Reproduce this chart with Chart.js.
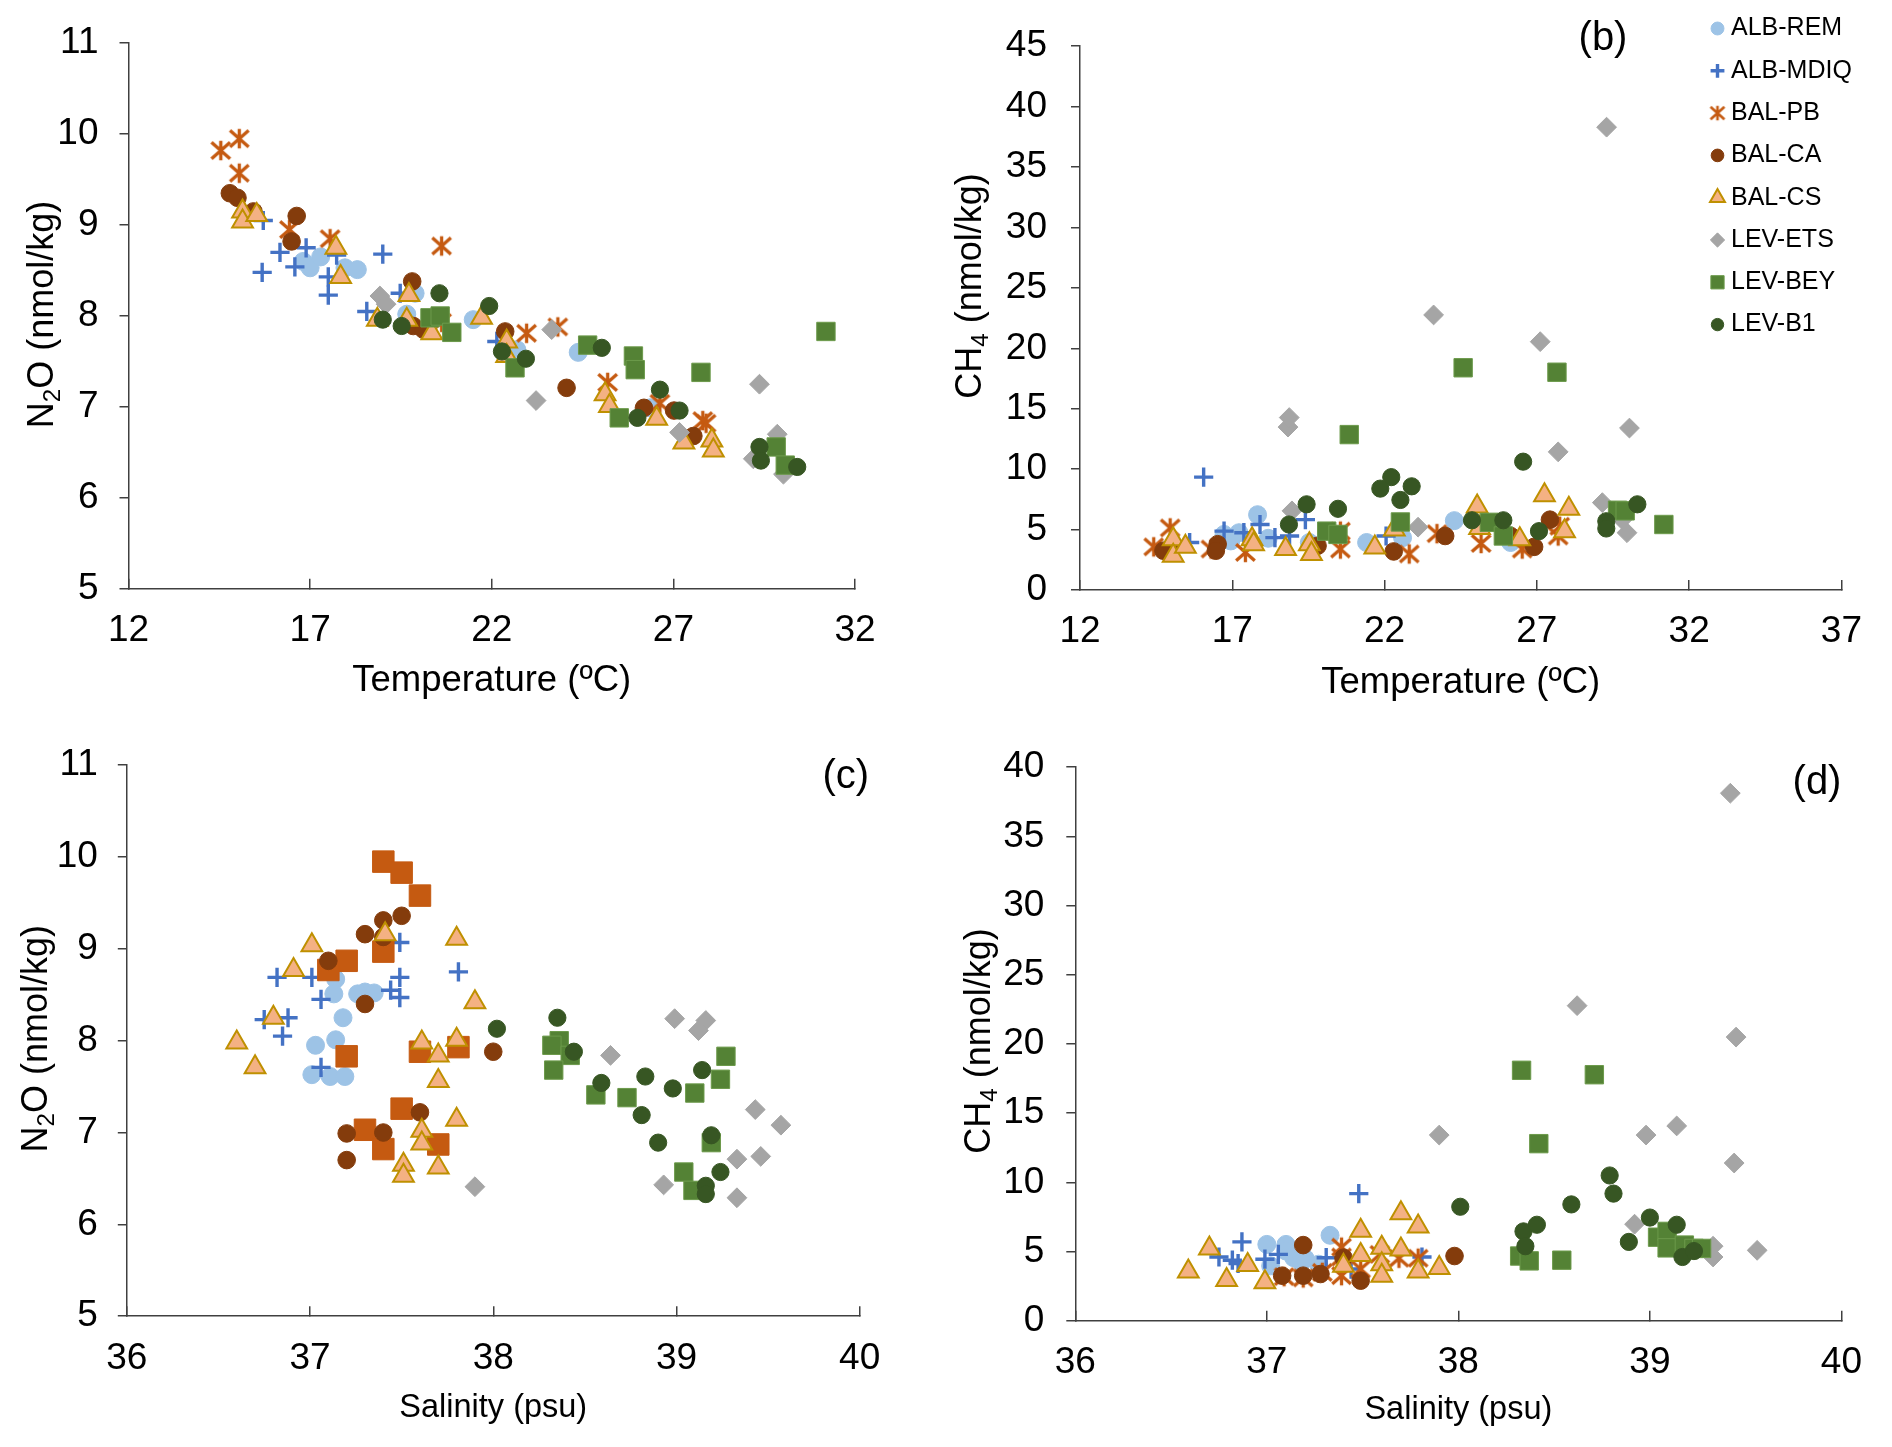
<!DOCTYPE html>
<html><head><meta charset="utf-8">
<script src="https://cdn.jsdelivr.net/npm/chart.js@4.4.1/dist/chart.umd.min.js"></script>
<style>
html,body{margin:0;padding:0;background:#fff;}
body{width:1892px;height:1447px;position:relative;overflow:hidden;}
.panel{position:absolute;}
canvas{display:block;}
</style></head><body>
<div class="panel" style="left:0;top:0;"><canvas id="ca" width="946" height="723" style="width:946px;height:723px"></canvas></div>
<div class="panel" style="left:946px;top:0;"><canvas id="cb" width="946" height="723" style="width:946px;height:723px"></canvas></div>
<div class="panel" style="left:0;top:723px;"><canvas id="cc" width="946" height="724" style="width:946px;height:724px"></canvas></div>
<div class="panel" style="left:946px;top:723px;"><canvas id="cd" width="946" height="724" style="width:946px;height:724px"></canvas></div>
<script>
// ---------------- DATA ----------------
const SERIES = ['ALB-REM','ALB-MDIQ','BAL-PB','BAL-CA','BAL-CS','LEV-ETS','LEV-BEY','LEV-B1'];

// Panel (a): temperature (ºC) vs N2O (nmol/kg)
const A_ALB_REM  = [[16.81,8.60],[17.0,8.53],[17.29,8.65],[17.96,8.53],[18.3,8.51],[19.89,8.25],[19.66,8.02],[21.49,7.96],[22.69,7.63],[24.38,7.60],[26.36,6.99]];
const A_ALB_MDIQ = [[15.71,9.05],[16.17,8.70],[15.68,8.48],[16.89,8.75],[16.58,8.54],[17.73,8.67],[17.5,8.43],[17.5,8.23],[19.0,8.68],[18.56,8.05],[19.48,8.25],[22.14,7.72]];
const A_BAL_PB   = [[14.54,9.82],[15.05,9.95],[15.05,9.57],[16.43,8.95],[17.55,8.85],[20.62,8.77],[20.62,7.93],[22.96,7.81],[23.82,7.88],[25.19,7.27],[26.63,7.04],[27.81,6.85],[27.9,6.82]];
const A_BAL_CA   = [[14.79,9.35],[15.0,9.30],[15.44,9.15],[16.63,9.10],[16.49,8.82],[19.81,8.38],[19.84,7.89],[20.12,7.85],[22.37,7.83],[24.06,7.21],[26.19,6.99],[27.02,6.96],[27.55,6.68]];
const A_BAL_CS   = [[15.14,9.15],[15.14,9.04],[15.53,9.11],[17.71,8.75],[17.84,8.43],[19.72,8.23],[18.85,7.96],[19.66,7.96],[20.35,7.81],[21.72,7.98],[22.41,7.72],[22.41,7.56],[25.12,7.14],[25.24,7.01],[26.54,6.87],[27.29,6.61],[28.06,6.63],[28.1,6.52]];
const A_LEV_ETS  = [[18.92,8.22],[19.09,8.13],[23.22,7.07],[23.65,7.85],[29.37,7.25],[27.17,6.72],[29.86,6.70],[29.2,6.43],[30.03,6.26]];
const A_LEV_BEY  = [[20.3,7.98],[20.58,8.0],[20.9,7.82],[22.64,7.43],[24.64,7.68],[25.9,7.56],[25.95,7.41],[27.76,7.38],[25.51,6.88],[31.2,7.83],[29.83,6.56],[30.08,6.36]];
const A_LEV_B1   = [[19.0,7.96],[19.52,7.89],[20.56,8.25],[21.93,8.11],[22.28,7.61],[22.94,7.53],[25.03,7.65],[26.63,7.19],[26.01,6.88],[27.17,6.96],[29.37,6.56],[29.41,6.41],[30.41,6.34]];

// Panel (b): temperature (ºC) vs CH4 (nmol/kg)
const B_ALB_REM  = [[17.83,6.23],[16.73,4.6],[17.22,4.74],[16.95,4.06],[18.18,4.28],[19.53,3.93],[21.41,3.93],[22.59,4.33],[24.29,5.74],[26.14,3.93]];
const B_ALB_MDIQ = [[16.06,9.34],[15.6,3.93],[16.73,4.87],[17.38,4.74],[17.91,5.42],[18.4,4.33],[18.88,4.47],[19.4,5.82],[22.05,4.47]];
const B_BAL_PB   = [[14.42,3.57],[14.96,5.14],[16.3,3.39],[17.43,3.11],[20.55,3.39],[20.55,4.87],[22.81,2.98],[23.72,4.66],[25.17,3.85],[26.52,3.39],[27.75,5.28],[27.7,4.47]];
const B_BAL_CA   = [[14.74,3.25],[15.01,3.52],[16.52,3.79],[16.46,3.25],[19.8,3.66],[22.3,3.19],[23.99,4.47],[26.14,4.47],[26.91,3.57],[27.43,5.82]];
const B_BAL_CS   = [[15.06,4.2],[15.06,2.84],[15.46,3.57],[17.65,4.2],[17.7,3.79],[18.75,3.39],[19.53,3.79],[19.6,2.98],[21.68,3.52],[22.32,5.01],[25.04,6.9],[25.12,5.14],[26.44,4.2],[27.25,7.85],[28.05,6.72],[27.91,4.87]];
const B_LEV_ETS  = [[18.83,13.48],[18.87,14.27],[18.96,6.55],[23.1,5.2],[23.61,22.76],[27.11,20.55],[27.7,11.43],[29.29,38.3],[30.04,13.4],[29.15,7.23],[29.96,4.74],[29.8,5.82]];
const B_LEV_BEY  = [[20.84,12.86],[20.1,4.87],[20.47,4.6],[22.52,5.63],[24.58,18.39],[27.66,18.02],[25.44,5.6],[25.9,4.47],[29.65,6.6],[29.9,6.55],[31.17,5.42]];
const B_LEV_B1   = [[22.22,9.34],[21.86,8.39],[22.89,8.58],[22.52,7.45],[19.44,7.09],[20.47,6.72],[18.86,5.42],[26.55,10.62],[24.87,5.77],[25.9,5.77],[27.07,4.87],[29.28,5.69],[29.28,5.09],[30.3,7.09]];

// Panel (c): salinity (psu) vs N2O (nmol/kg)
const C_ALB_REM  = [[37.14,8.67],[37.13,8.51],[37.3,8.53],[37.35,8.52],[37.26,8.51],[37.18,8.25],[37.03,7.95],[37.14,8.01],[37.01,7.63],[37.11,7.61],[37.19,7.61]];
const C_ALB_MDIQ = [[37.49,9.07],[36.82,8.69],[37.01,8.69],[37.49,8.69],[37.44,8.55],[37.49,8.47],[37.06,8.45],[37.81,8.75],[36.75,8.23],[36.88,8.25],[36.85,8.05],[37.06,7.71]];
const C_BAL_PB   = [[37.4,9.95],[37.5,9.83],[37.6,9.58],[37.4,8.97],[37.2,8.87],[37.1,8.77],[37.2,7.83],[37.6,7.88],[37.81,7.93],[37.5,7.26],[37.3,7.03],[37.4,6.82],[37.7,6.87]];
const C_BAL_CA   = [[37.4,9.31],[37.5,9.36],[37.3,9.16],[37.4,9.13],[37.1,8.87],[37.3,8.4],[37.6,7.22],[37.2,6.99],[37.4,7.0],[37.2,6.7],[38.0,7.88]];
const C_BAL_CS   = [[37.01,9.04],[37.41,9.16],[37.8,9.11],[36.91,8.77],[37.9,8.42],[36.8,8.25],[36.6,7.98],[36.7,7.71],[37.61,7.98],[37.8,8.01],[37.7,7.84],[37.7,7.56],[37.8,7.14],[37.61,7.02],[37.61,6.88],[37.51,6.65],[37.51,6.53],[37.7,6.62]];
const C_LEV_ETS  = [[37.9,6.41],[38.99,8.24],[39.16,8.22],[39.12,8.11],[38.64,7.84],[39.43,7.25],[39.57,7.08],[39.33,6.71],[39.46,6.74],[38.93,6.43],[39.33,6.29]];
const C_LEV_BEY  = [[38.36,8.0],[38.32,7.95],[38.42,7.84],[38.33,7.68],[38.56,7.41],[38.73,7.38],[39.1,7.43],[39.27,7.83],[39.24,7.58],[39.19,6.89],[39.04,6.57],[39.09,6.37]];
const C_LEV_B1   = [[38.02,8.13],[38.35,8.25],[38.44,7.88],[38.59,7.54],[38.83,7.61],[38.98,7.48],[39.14,7.68],[38.81,7.19],[38.9,6.89],[39.19,6.97],[39.24,6.57],[39.16,6.42],[39.16,6.33]];

// Panel (d): salinity (psu) vs CH4 (nmol/kg)
const D_ALB_REM  = [[37.0,5.52],[37.1,5.52],[37.02,3.97],[37.14,4.56],[37.18,4.21],[37.33,6.18],[37.27,4.09],[37.1,5.04],[37.2,4.5]];
const D_ALB_MDIQ = [[37.48,9.19],[36.87,5.7],[36.75,4.61],[36.82,4.38],[36.85,4.14],[36.99,4.45],[37.06,4.8],[37.31,4.56],[37.44,3.74],[37.81,4.61]];
const D_BAL_PB   = [[37.09,3.19],[37.19,3.1],[37.29,3.5],[37.39,5.32],[37.39,4.61],[37.39,3.26],[37.49,3.74],[37.59,4.8],[37.69,4.52],[37.79,4.52]];
const D_BAL_CA   = [[37.19,5.47],[37.98,4.68],[37.08,3.26],[37.19,3.26],[37.28,3.38],[37.4,4.56],[37.49,2.9]];
const D_BAL_CS   = [[36.59,3.57],[36.7,5.23],[36.79,2.95],[36.9,4.04],[36.99,2.78],[37.49,6.51],[37.49,4.75],[37.7,7.77],[37.79,6.82],[37.6,5.27],[37.6,4.09],[37.6,3.26],[37.7,5.16],[37.79,3.57],[37.9,3.81],[37.4,3.97]];
const D_LEV_ETS  = [[39.42,38.12],[38.62,22.77],[39.45,20.5],[37.9,13.42],[38.98,13.42],[39.14,14.08],[39.44,11.4],[38.92,6.98],[39.33,5.39],[39.33,4.61],[39.56,5.09]];
const D_LEV_BEY  = [[38.33,18.1],[38.71,17.78],[38.42,12.8],[38.32,4.68],[38.37,4.33],[38.54,4.38],[39.04,6.04],[39.09,6.46],[39.09,5.27],[39.18,5.47],[39.23,5.23],[39.27,5.23]];
const D_LEV_B1   = [[38.01,8.24],[38.79,10.5],[38.81,9.19],[38.59,8.41],[38.34,6.46],[38.41,6.94],[38.35,5.39],[39.0,7.46],[39.14,6.94],[38.89,5.7],[39.17,4.61],[39.23,5.04]];

// Axis ranges / tick steps
const A_X = {min:12, max:32, step:5}, A_Y = {min:5, max:11, step:1};
const B_X = {min:12, max:37, step:5}, B_Y = {min:0, max:45, step:5};
const C_X = {min:36, max:40, step:1}, C_Y = {min:5, max:11, step:1};
const D_X = {min:36, max:40, step:1}, D_Y = {min:0, max:40, step:5};

// ---------------- STYLES ----------------
const FONT = '"Liberation Sans", Arial, Helvetica, sans-serif';
const AXIS_COLOR = '#404040';
const TICK_SIZE = 37;

function makeStar(color, s, lw) {
  const c = document.createElement('canvas');
  const n = Math.ceil(s * 2 + lw * 2);
  c.width = n; c.height = n;
  const g = c.getContext('2d');
  const m = n / 2;
  g.strokeStyle = color; g.lineWidth = lw; g.lineCap = 'butt';
  g.beginPath();
  g.moveTo(m, m - s); g.lineTo(m, m + s);
  g.moveTo(m - s * 0.95, m - s * 0.85); g.lineTo(m + s * 0.95, m + s * 0.85);
  g.moveTo(m + s * 0.95, m - s * 0.85); g.lineTo(m - s * 0.95, m + s * 0.85);
  g.stroke();
  return c;
}
const STAR_BIG = makeStar('#C55A11', 9.8, 3.3);
const STAR_SMALL = makeStar('#C55A11', 7.3, 2.6);

const STYLE = {
  'ALB-REM':  {pointStyle:'circle',  radius:9,   bg:'#9DC3E6', bc:'#9DC3E6', bw:1},
  'ALB-MDIQ': {pointStyle:'cross',   radius:9.6, bg:'#4472C4', bc:'#4472C4', bw:3.4},
  'BAL-PB':   {pointStyle:STAR_BIG,  radius:9,   bg:'#C55A11', bc:'#C55A11', bw:0},
  'BAL-CA':   {pointStyle:'circle',  radius:8.8, bg:'#843C0C', bc:'#843C0C', bw:1},
  'BAL-CS':   {pointStyle:'triangle',radius:12,  bg:'#F4B183', bc:'#BF9000', bw:2},
  'LEV-ETS':  {pointStyle:'rectRot', radius:9.9, bg:'#A5A5A5', bc:'#A5A5A5', bw:1},
  'LEV-BEY':  {pointStyle:'rect',    radius:13,  bg:'#548235', bc:'#6C9A4B', bw:1},
  'LEV-B1':   {pointStyle:'circle',  radius:8.6, bg:'#375623', bc:'#375623', bw:1}
};
// Panel (c) draws BAL-PB as larger orange squares
const STYLE_C_OVERRIDE = {'BAL-PB': {pointStyle:'rect', radius:15.2, bg:'#C55A11', bc:'#C55A11', bw:1}};

// ---------------- PLUGINS ----------------
function drawMarker(ctx, st, scale, x, y) {
  ctx.save();
  ctx.fillStyle = st.bg; ctx.strokeStyle = st.bc; ctx.lineWidth = st.bw;
  const opts = {pointStyle: st.pointStyle === STAR_BIG ? STAR_SMALL : st.pointStyle,
                radius: st.radius * scale, borderWidth: st.bw, rotation: 0};
  if (Chart.helpers && Chart.helpers.drawPoint) {
    Chart.helpers.drawPoint(ctx, opts, x, y);
  }
  ctx.restore();
}

const decorPlugin = {
  id: 'decor',
  afterDraw(chart, args, o) {
    const ctx = chart.ctx, ca = chart.chartArea;
    ctx.save();
    ctx.fillStyle = '#000';
    // x-axis title
    ctx.font = o.xSize + 'px ' + FONT;
    ctx.textAlign = 'center'; ctx.textBaseline = 'alphabetic';
    ctx.fillText(o.xTitle, (ca.left + ca.right) / 2, o.xBase);
    // y-axis title with subscript
    ctx.save();
    ctx.translate(o.yBase, o.yCenter);
    ctx.rotate(-Math.PI / 2);
    const big = 36, small = 24;
    let W = 0;
    const parts = o.yTitle.map(p => {
      ctx.font = (p.sub ? small : big) + 'px ' + FONT;
      const w = ctx.measureText(p.t).width; W += w; return {t:p.t, sub:p.sub, w};
    });
    let cx = -W / 2;
    ctx.textAlign = 'left';
    parts.forEach(p => {
      ctx.font = (p.sub ? small : big) + 'px ' + FONT;
      ctx.fillText(p.t, cx, p.sub ? 7 : 0);
      cx += p.w;
    });
    ctx.restore();
    // panel label
    if (o.label) {
      ctx.font = '40px ' + FONT;
      ctx.textAlign = 'center'; ctx.textBaseline = 'middle';
      ctx.fillText(o.label, o.labelX, o.labelY);
    }
    // legend
    if (o.legend) {
      ctx.font = '25px ' + FONT;
      ctx.textAlign = 'left'; ctx.textBaseline = 'middle';
      SERIES.forEach((name, i) => {
        const y = o.legendY + i * o.legendStep;
        drawMarker(ctx, STYLE[name], 0.72, o.legendX, y);
        ctx.fillStyle = '#000';
        ctx.fillText(name, o.legendX + 13.5, y);
      });
    }
    ctx.restore();
  }
};

// ---------------- CHARTS ----------------
function buildChart(id, seriesArrays, xr, yr, area, cw, ch, tickPadY, decor, override) {
  const datasets = SERIES.map((name, i) => {
    const st = Object.assign({}, STYLE[name], (override && override[name]) || {});
    return {
      label: name,
      data: seriesArrays[i].map(p => ({x: p[0], y: p[1]})),
      pointStyle: st.pointStyle,
      pointRadius: st.radius,
      pointHoverRadius: st.radius,
      backgroundColor: st.bg,
      borderColor: st.bc,
      borderWidth: st.bw,
      order: SERIES.length - i,
      clip: false
    };
  });
  const [L, T, R, B] = area;
  return new Chart(document.getElementById(id), {
    type: 'scatter',
    data: {datasets},
    plugins: [decorPlugin],
    options: {
      responsive: false,
      animation: false,
      devicePixelRatio: window.devicePixelRatio || 1,
      events: [],
      layout: {padding: {left: 0, top: T, right: cw - R, bottom: 0}},
      plugins: {legend: {display: false}, tooltip: {enabled: false}, decor},
      scales: {
        x: {
          type: 'linear', min: xr.min, max: xr.max,
          afterFit: s => { s.height = ch - B; },
          ticks: {stepSize: xr.step, color: '#000', font: {family: FONT, size: TICK_SIZE}, padding: 30, maxRotation: 0, autoSkip: false},
          grid: {display: true, drawOnChartArea: false, drawTicks: true, tickLength: -10, color: AXIS_COLOR, lineWidth: 1.5},
          border: {display: true, color: AXIS_COLOR, width: 1.5}
        },
        y: {
          type: 'linear', min: yr.min, max: yr.max,
          afterFit: s => { s.width = L; },
          ticks: {stepSize: yr.step, color: '#000', font: {family: FONT, size: TICK_SIZE}, padding: tickPadY, autoSkip: false},
          grid: {display: true, drawOnChartArea: false, drawTicks: true, tickLength: 9, color: AXIS_COLOR, lineWidth: 1.5},
          border: {display: true, color: AXIS_COLOR, width: 1.5}
        }
      }
    }
  });
}

buildChart('ca', [A_ALB_REM, A_ALB_MDIQ, A_BAL_PB, A_BAL_CA, A_BAL_CS, A_LEV_ETS, A_LEV_BEY, A_LEV_B1],
  A_X, A_Y, [128.5, 40.5, 855, 588.8], 946, 723, 21,
  {xTitle: 'Temperature (ºC)', xSize: 36.5, xBase: 691,
   yTitle: [{t:'N'},{t:'2',sub:true},{t:'O (nmol/kg)'}], yBase: 52.6, yCenter: 314.5});

buildChart('cb', [B_ALB_REM, B_ALB_MDIQ, B_BAL_PB, B_BAL_CA, B_BAL_CS, B_LEV_ETS, B_LEV_BEY, B_LEV_B1],
  B_X, B_Y, [134, 36, 909, 590], 946, 723, 24,
  {xTitle: 'Temperature (ºC)', xSize: 36.5, xBase: 693,
   yTitle: [{t:'CH'},{t:'4',sub:true},{t:' (nmol/kg)'}], yBase: 34.9, yCenter: 286,
   label: '(b)', labelX: 657, labelY: 39,
   legend: true, legendX: 771.5, legendY: 28.5, legendStep: 42.3});

buildChart('cc', [C_ALB_REM, C_ALB_MDIQ, C_BAL_PB, C_BAL_CA, C_BAL_CS, C_LEV_ETS, C_LEV_BEY, C_LEV_B1],
  C_X, C_Y, [126.8, 40.6, 859.7, 593.2], 946, 724, 20,
  {xTitle: 'Salinity (psu)', xSize: 32.5, xBase: 694,
   yTitle: [{t:'N'},{t:'2',sub:true},{t:'O (nmol/kg)'}], yBase: 46.9, yCenter: 315.7,
   label: '(c)', labelX: 845.7, labelY: 54}, STYLE_C_OVERRIDE);

buildChart('cd', [D_ALB_REM, D_ALB_MDIQ, D_BAL_PB, D_BAL_CA, D_BAL_CS, D_LEV_ETS, D_LEV_BEY, D_LEV_B1],
  D_X, D_Y, [129.3, 36, 896.5, 597.8], 946, 724, 22,
  {xTitle: 'Salinity (psu)', xSize: 32.5, xBase: 696,
   yTitle: [{t:'CH'},{t:'4',sub:true},{t:' (nmol/kg)'}], yBase: 43.9, yCenter: 318,
   label: '(d)', labelX: 871, labelY: 59.5});
</script>
</body></html>
